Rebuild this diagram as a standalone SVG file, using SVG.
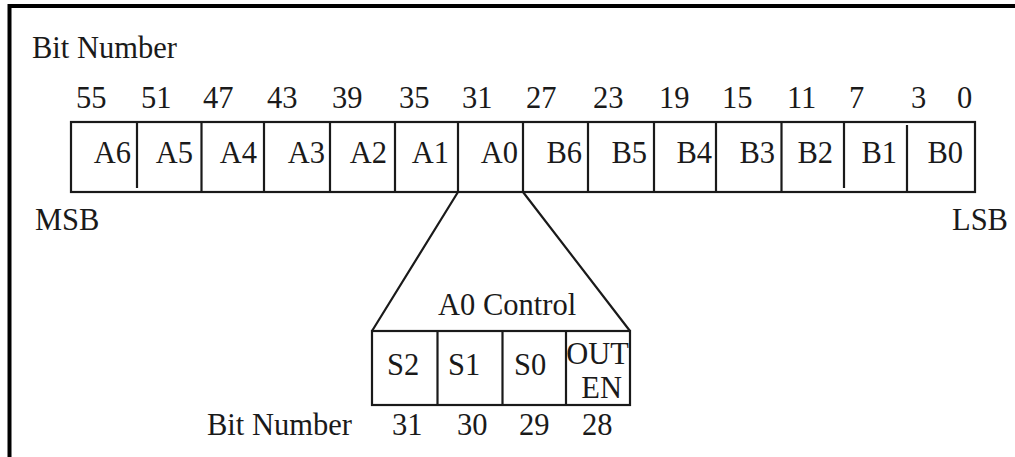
<svg xmlns="http://www.w3.org/2000/svg" width="1015" height="457" viewBox="0 0 1015 457">
<style>
text{font-family:"Liberation Serif","Times New Roman",serif;font-size:30.5px;fill:#1a1a1a}
.e{text-anchor:end}
.ln{stroke:#1a1a1a;stroke-width:2.2;fill:none}
.bd{stroke:#000;stroke-width:4;fill:none}
</style>
<rect width="1015" height="457" fill="#fff"/>
<path class="bd" d="M9.5 457 V6 H1015"/>
<g id="title"><text x="32" y="58">Bit Number</text></g>
<g id="bit-numbers">
<text x="76" y="108">55</text><text x="141" y="108">51</text><text x="203" y="108">47</text><text x="267" y="108">43</text><text x="332" y="108">39</text><text x="399" y="108">35</text><text x="462" y="108">31</text><text x="526" y="108">27</text><text x="593" y="108">23</text><text x="659" y="108">19</text><text x="722" y="108">15</text><text x="787" y="108">11</text><text x="849" y="108">7</text><text x="911" y="108">3</text><text x="957" y="108">0</text>
</g>
<g id="register">
<rect class="ln" x="71" y="122" width="904" height="70"/>
<path class="ln" d="M137 122V188M201.5 122V192M264 122V192M330 122V192M395 122V192M458 122V192M523 122V192M588 122V192M654 122V192M716 122V192M781.5 122V192M844 122V188M907 125V192"/>
</g>
<g id="A6"><text class="e" x="131" y="163">A6</text></g>
<g id="A5"><text class="e" x="193" y="163">A5</text></g>
<g id="A4"><text class="e" x="257" y="163">A4</text></g>
<g id="A3"><text class="e" x="325" y="163">A3</text></g>
<g id="A2"><text class="e" x="387" y="163">A2</text></g>
<g id="A1"><text class="e" x="449" y="163">A1</text></g>
<g id="A0"><text class="e" x="518" y="163">A0</text></g>
<g id="B6"><text class="e" x="582" y="163">B6</text></g>
<g id="B5"><text class="e" x="647" y="163">B5</text></g>
<g id="B4"><text class="e" x="712" y="163">B4</text></g>
<g id="B3"><text class="e" x="775" y="163">B3</text></g>
<g id="B2"><text class="e" x="833" y="163">B2</text></g>
<g id="B1"><text class="e" x="897" y="163">B1</text></g>
<g id="B0"><text class="e" x="963" y="163">B0</text></g>
<g id="msb"><text x="35" y="230">MSB</text></g>
<g id="lsb"><text x="952" y="230">LSB</text></g>
<g id="connectors">
<path class="ln" d="M458 192L372 331M523 192L630 331"/>
</g>
<g id="a0-control">
<text x="438" y="315">A0 Control</text>
<rect class="ln" x="372" y="331" width="258" height="74"/>
<path class="ln" d="M437.5 331V405M502.5 331V405M566 331V405"/>
</g>
<g id="S2"><text x="387" y="375">S2</text></g>
<g id="S1"><text x="448" y="375">S1</text></g>
<g id="S0"><text x="514" y="375">S0</text></g>
<g id="OUTEN"><text class="e" x="629" y="364">OUT</text><text class="e" x="622" y="398">EN</text></g>
<g id="sub-bit-numbers">
<text x="207" y="435">Bit Number</text>
<text x="392" y="435">31</text><text x="457" y="435">30</text><text x="519" y="435">29</text><text x="582" y="435">28</text>
</g>
</svg>
